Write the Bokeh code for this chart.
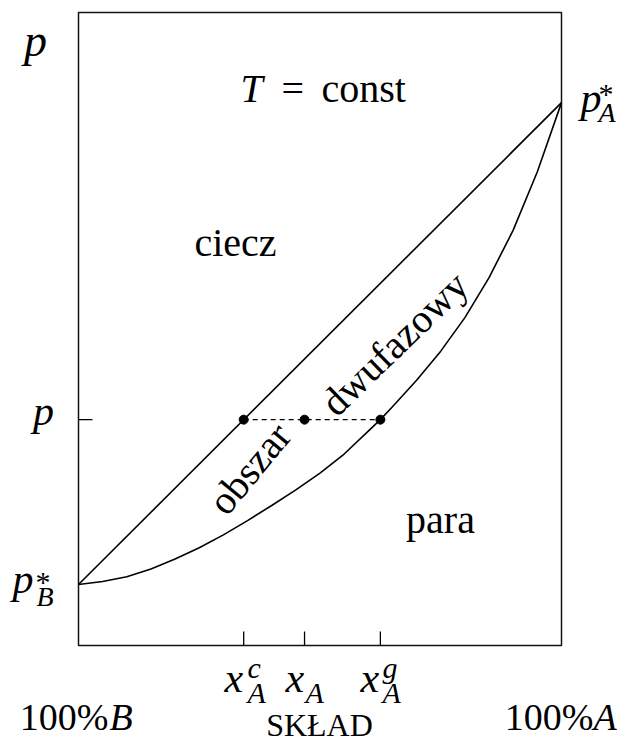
from bokeh.plotting import figure
from bokeh.models import Range1d, ColumnDataSource
from bokeh.core.properties import value
from bokeh.embed import file_html
from bokeh.resources import INLINE

# --- data: isothermal p–x diagram of an ideal binary mixture A/B ---
composition_range = [0.0, 1.0]          # 0 = 100% B, 1 = 100% A
pressure_range = [0.718, 3.647]         # pressure span of the diagram box
p_B_star = 1.00                         # vapour pressure of pure B
p_A_star = 3.23                         # vapour pressure of pure A

# liquidus (bubble line) – straight line between the pure-component pressures
liquid_x = [0.0, 1.0]
liquid_p = [p_B_star, p_A_star]

# vapour (dew) line
vapour_x = [0.000, 0.050, 0.100, 0.150, 0.200, 0.250, 0.300, 0.350, 0.400,
            0.450, 0.500, 0.550, 0.600, 0.625, 0.650, 0.700, 0.750, 0.800,
            0.850, 0.900, 0.950, 1.000]
vapour_p = [1.000, 1.014, 1.036, 1.072, 1.118, 1.170, 1.230, 1.296, 1.366,
            1.438, 1.516, 1.604, 1.710, 1.763, 1.823, 1.945, 2.080, 2.235,
            2.420, 2.640, 2.910, 3.230]

# tie line at pressure p: liquid x_A^c, overall x_A, vapour x_A^g
tie_p = 1.763
tie_x = [0.342, 0.468, 0.625]

# --- canvas geometry: the diagram box sits inside a full-canvas frame ---
W, H = 626, 742
BOX_L, BOX_R, BOX_T, BOX_B = 78, 561, 12, 645
X0, X1 = composition_range
Y0, Y1 = pressure_range


def dx(px):
    """canvas pixel column -> composition"""
    return X0 + (px - BOX_L) / (BOX_R - BOX_L) * (X1 - X0)


def dy(py):
    """canvas pixel row -> pressure"""
    return Y0 + (BOX_B - py) / (BOX_B - BOX_T) * (Y1 - Y0)


p = figure(width=W, height=H, output_backend="svg", toolbar_location=None,
           x_range=Range1d(dx(0), dx(W)), y_range=Range1d(dy(H), dy(0)),
           min_border=0, x_axis_location=None, y_axis_location=None)
p.grid.visible = False
p.outline_line_color = None
p.background_fill_color = "white"
p.border_fill_color = "white"

# diagram box
p.quad(left=[X0], right=[X1], bottom=[Y0], top=[Y1], fill_color=None,
       line_color="#111111", line_width=1.5)

# phase boundaries
p.line(liquid_x, liquid_p, line_color="black", line_width=1.6)
p.line(vapour_x, vapour_p, line_color="black", line_width=1.6)

# tie line and its three points
p.line([tie_x[0], tie_x[-1]], [tie_p, tie_p], line_color="black",
       line_width=1.1, line_dash="5 4")
p.scatter(tie_x, [tie_p] * len(tie_x), size=9, color="black")

# inward tick marks on the box
tick_len_y = dy(BOX_B - 14) - Y0
tick_len_x = dx(BOX_L + 14) - X0
ticks = ColumnDataSource(dict(x0=tie_x, y0=[Y0] * 3,
                              x1=tie_x, y1=[Y0 + tick_len_y] * 3))
p.segment("x0", "y0", "x1", "y1", source=ticks, line_color="black", line_width=1.3)
p.segment([X0], [tie_p], [X0 + tick_len_x], [tie_p], line_color="black", line_width=1.3)

SERIF = "Liberation Serif"
BASELINE_SHIFT = 0.34   # alphabetic baseline correction, in em


def txt(s, px, py, size, italic=False, align="left", baseline="alphabetic", angle=0.0):
    if baseline == "alphabetic":
        py -= BASELINE_SHIFT * size
    p.text(x=[dx(px)], y=[dy(py)], text=[s], text_font=value(SERIF),
           text_font_size=f"{size}px",
           text_font_style="italic" if italic else "normal",
           text_align=align, text_baseline=baseline,
           text_color="black", angle=angle)


# axis symbol
txt("p", 35, 56, 46, italic=True, align="center")

# title inside the box
txt("T", 240, 102, 40, italic=True)
txt("=", 281, 102, 40)
txt("const", 321, 102, 40)

# region names
txt("ciecz", 235, 256, 40, align="center")
txt("para", 440, 533, 40, align="center")
txt("obszar", 249, 468, 40, align="center", baseline="middle", angle=0.88)
txt("dwufazowy", 394, 343, 40, align="center", baseline="middle", angle=0.77)

# pressure labels
txt("p", 580, 112, 42, italic=True)
txt("*", 598, 103, 30)
txt("A", 598, 122, 28, italic=True)

txt("p", 43, 425, 42, italic=True, align="center")

txt("p", 12, 593, 42, italic=True)
txt("*", 35, 591, 30)
txt("B", 36, 606, 28, italic=True)

# composition labels
txt("x", 224, 692, 42, italic=True)
txt("c", 247, 677, 30, italic=True)
txt("A", 247, 702, 30, italic=True)

txt("x", 285, 692, 42, italic=True)
txt("A", 305, 702, 30, italic=True)

txt("x", 360, 692, 42, italic=True)
txt("g", 382, 677, 30, italic=True)
txt("A", 382, 702, 30, italic=True)

txt("100%", 108, 729, 38, align="right")
txt("B", 109, 729, 38, italic=True)
txt("100%", 593, 729, 38, align="right")
txt("A", 593, 729, 38, italic=True)
txt("SKŁAD", 319, 735, 32, align="center")

open("out.html", "w").write(file_html(p, INLINE))
